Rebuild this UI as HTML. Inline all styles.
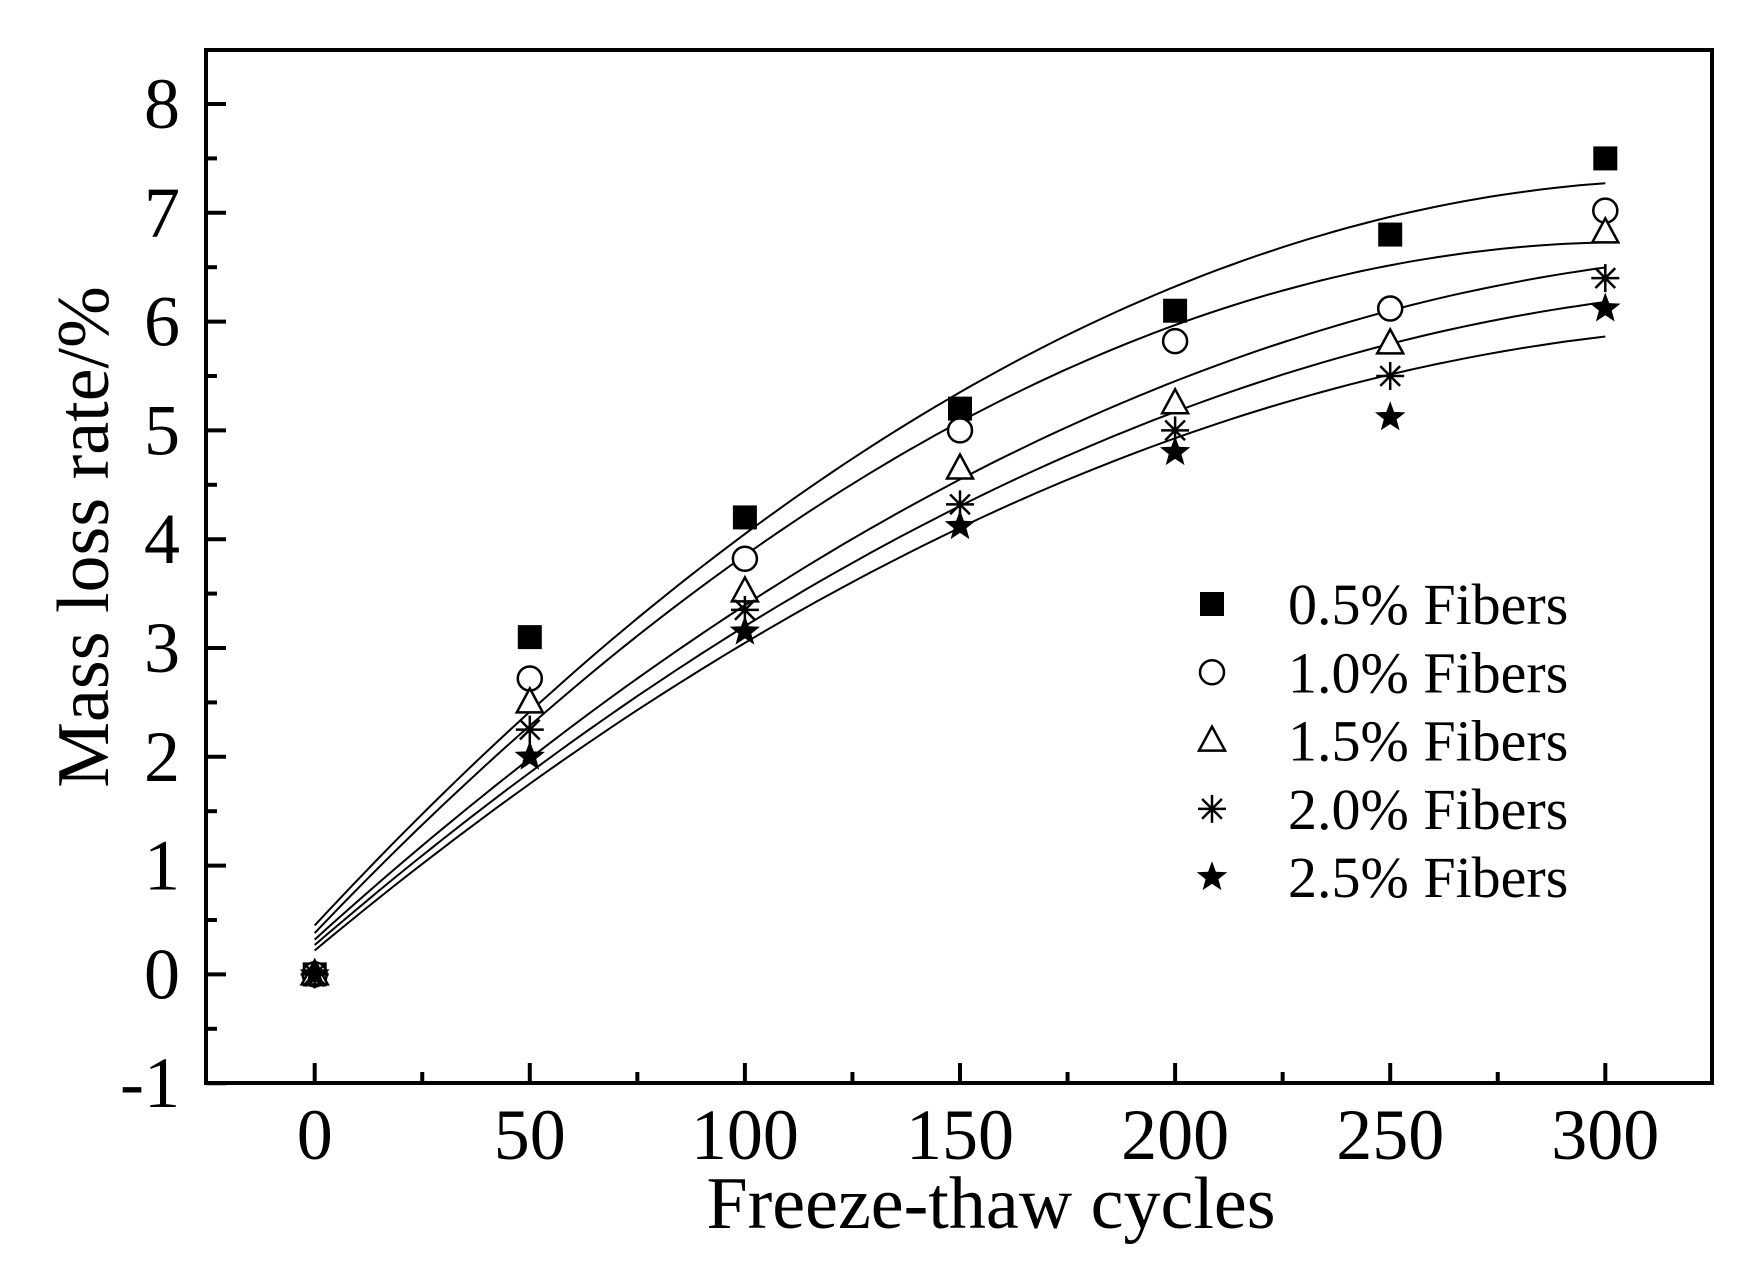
<!DOCTYPE html>
<html><head><meta charset="utf-8"><style>
html,body{margin:0;padding:0;background:#fff;}
svg{display:block;}
text{font-family:"Liberation Serif",serif;fill:#000;}
</style></head><body>
<svg id="s" width="1757" height="1266" viewBox="0 0 1757 1266" xmlns="http://www.w3.org/2000/svg">
<rect x="0" y="0" width="1757" height="1266" fill="#fff"/>
<g id="g"></g>
</svg>
<script>
var NS="http://www.w3.org/2000/svg",g=document.getElementById('g');
function el(t,a,txt){var e=document.createElementNS(NS,t);for(var k in a)e.setAttribute(k,a[k]);if(txt!=null)e.textContent=txt;g.appendChild(e);return e;}
function X(v){return 314.7+v*4.302;}
function Y(v){return 104+(8-v)*108.8;}
var L=206,R=1712,T=50,B=1083;
// ticks
for(var v=-1;v<=8;v+=0.5){var y=Y(v);var maj=Math.abs(v-Math.round(v))<1e-6;
 el('line',{x1:L,y1:y,x2:L+(maj?20:11),y2:y,stroke:'#000','stroke-width':4});
 if(maj)el('text',{x:180,y:y+24,'font-size':72,'text-anchor':'end'},String(v));}
for(var v=0;v<=300;v+=25){var x=X(v);var maj=v%50==0;
 el('line',{x1:x,y1:B,x2:x,y2:B-(maj?20:11),stroke:'#000','stroke-width':4});
 if(maj)el('text',{x:x,y:1159,'font-size':72,'text-anchor':'middle'},String(v));}
el('rect',{x:L,y:T,width:R-L,height:B-T,fill:'none',stroke:'#000','stroke-width':4});
el('text',{x:991,y:1228,'font-size':74,'text-anchor':'middle'},'Freeze-thaw cycles');
el('text',{x:0,y:0,'font-size':74,'text-anchor':'middle',transform:'translate(108,537) rotate(-90)'},'Mass loss rate/%');
// fits
var fits=[[.45,.0426,-6.62e-5],[.38,.0415,-6.78e-5],[.32,.0358,-5.07e-5],[.27,.0341,-4.8e-5],[.22,.033,-4.73e-5]];
fits.forEach(function(f){var d='';for(var x=0;x<=300;x+=3){var yv=f[0]+f[1]*x+f[2]*x*x;d+=(x?'L':'M')+X(x).toFixed(1)+' '+Y(yv).toFixed(1);}
 el('path',{d:d,fill:'none',stroke:'#000','stroke-width':2});});
var data=[[0,3.1,4.2,5.2,6.1,6.8,7.5],[0,2.72,3.82,5.0,5.82,6.12,7.02],[0,2.5,3.52,4.65,5.25,5.8,6.82],[0,2.25,3.35,4.32,5.0,5.5,6.4],[0,2.0,3.15,4.12,4.8,5.12,6.12]];
function star(cx,cy,r){var p=[];for(var i=0;i<10;i++){var a=-Math.PI/2+i*Math.PI/5,rr=i%2?r*0.42:r;p.push((cx+rr*Math.cos(a)).toFixed(1)+','+(cy+rr*Math.sin(a)).toFixed(1));}return p.join(' ');}
function marker(k,cx,cy){
 if(k==0)el('rect',{x:cx-12,y:cy-12,width:24,height:24,fill:'#000'});
 else if(k==1)el('circle',{cx:cx,cy:cy,r:12,fill:'#fff',stroke:'#000','stroke-width':2.5});
 else if(k==2)el('polygon',{points:(cx)+','+(cy-14)+' '+(cx-13)+','+(cy+10)+' '+(cx+13)+','+(cy+10),fill:'#fff',stroke:'#000','stroke-width':2.5});
 else if(k==3){for(var i=0;i<4;i++){var a=i*Math.PI/4;el('line',{x1:cx-14*Math.cos(a),y1:cy-14*Math.sin(a),x2:cx+14*Math.cos(a),y2:cy+14*Math.sin(a),stroke:'#000','stroke-width':2.5});}}
 else el('polygon',{points:star(cx,cy,16),fill:'#000'});
}
data.forEach(function(s,k){s.forEach(function(v,i){marker(k,X(i*50),Y(v));});});
var labs=['0.5% Fibers','1.0% Fibers','1.5% Fibers','2.0% Fibers','2.5% Fibers'];
labs.forEach(function(t,k){var y=604+k*68.3;marker(k,1212,y);el('text',{x:1288,y:y+20,'font-size':58},t);});
</script>
</body></html>
